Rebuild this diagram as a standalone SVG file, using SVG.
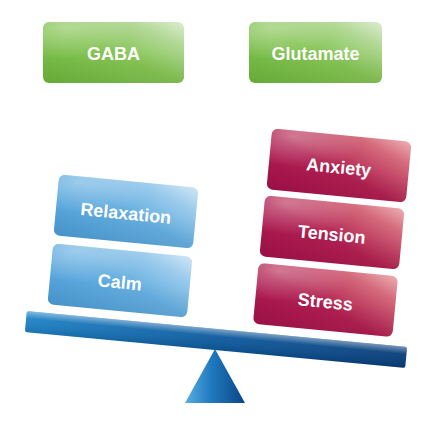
<svg xmlns="http://www.w3.org/2000/svg" width="435" height="427" viewBox="0 0 435 427">
  <defs>
    <linearGradient id="gGreen" x1="0" y1="1" x2="1" y2="0">
      <stop offset="0" stop-color="#6cb43a"/>
      <stop offset="0.5" stop-color="#85c454"/>
      <stop offset="0.8" stop-color="#b2d896"/>
      <stop offset="1" stop-color="#dcedcf"/>
    </linearGradient>
    <linearGradient id="gBlue" x1="0" y1="1" x2="1" y2="0">
      <stop offset="0" stop-color="#4a9cd6"/>
      <stop offset="0.5" stop-color="#64aee0"/>
      <stop offset="0.8" stop-color="#9ccbec"/>
      <stop offset="1" stop-color="#d0e7f6"/>
    </linearGradient>
    <linearGradient id="gRed" x1="0" y1="1" x2="1" y2="0">
      <stop offset="0" stop-color="#a3104a"/>
      <stop offset="0.45" stop-color="#b01f50"/>
      <stop offset="0.8" stop-color="#d46a7c"/>
      <stop offset="1" stop-color="#eeb0b4"/>
    </linearGradient>
    <radialGradient id="gSheen" cx="0.15" cy="0.1" r="0.5">
      <stop offset="0" stop-color="#ffffff" stop-opacity="0.35"/>
      <stop offset="1" stop-color="#ffffff" stop-opacity="0"/>
    </radialGradient>
    <linearGradient id="gShade" x1="0" y1="0" x2="0" y2="1">
      <stop offset="0.5" stop-color="#000000" stop-opacity="0"/>
      <stop offset="1" stop-color="#000000" stop-opacity="0.06"/>
    </linearGradient>
    <linearGradient id="gBeam" x1="0" y1="0" x2="1" y2="0">
      <stop offset="0" stop-color="#1e82c6"/>
      <stop offset="0.5" stop-color="#0d5a9e"/>
      <stop offset="1" stop-color="#073c78"/>
    </linearGradient>
    <linearGradient id="gBeamHi" x1="0" y1="0" x2="0" y2="1">
      <stop offset="0" stop-color="#ffffff" stop-opacity="0.45"/>
      <stop offset="0.35" stop-color="#ffffff" stop-opacity="0.05"/>
      <stop offset="1" stop-color="#000000" stop-opacity="0.1"/>
    </linearGradient>
    <linearGradient id="gTri" x1="0" y1="0" x2="1" y2="0">
      <stop offset="0" stop-color="#5aaee2"/>
      <stop offset="0.45" stop-color="#1f78bd"/>
      <stop offset="1" stop-color="#0a4686"/>
    </linearGradient>
  </defs>
  <style>
    .box { stroke: none; }
    .green { fill: url(#gGreen); }
    .blue { fill: url(#gBlue); }
    .red { fill: url(#gRed); }
    .sheen { fill: url(#gSheen); }
    .shade { fill: url(#gShade); }
    .lbl { font-family: "Liberation Sans", Arial, sans-serif; font-weight: bold; font-size: 18px; fill: #ffffff; text-anchor: middle; }
  </style>
  <rect width="435" height="427" fill="#ffffff"/>

  <g id="GABA">
    <rect class="box green" x="43" y="22" width="141" height="61" rx="6"/>
    <rect class="box sheen" x="43" y="22" width="141" height="61" rx="6"/>
    <rect class="box shade" x="43" y="22" width="141" height="61" rx="6"/>
    <text class="lbl" x="113.5" y="59.5">GABA</text>
  </g>
  <g id="Glutamate">
    <rect class="box green" x="249" y="22" width="133" height="61" rx="6"/>
    <rect class="box sheen" x="249" y="22" width="133" height="61" rx="6"/>
    <rect class="box shade" x="249" y="22" width="133" height="61" rx="6"/>
    <text class="lbl" x="315.5" y="59.5">Glutamate</text>
  </g>

  <g id="fulcrum">
    <polygon points="215,349 185,403 245,403" fill="url(#gTri)"/>
  </g>
  <g id="beam" transform="translate(216,339.5) rotate(5.4)">
    <rect x="-191" y="-10.5" width="382" height="21" rx="2" fill="url(#gBeam)"/>
    <rect x="-191" y="-10.5" width="382" height="21" rx="2" fill="url(#gBeamHi)"/>
  </g>

  <g id="Relaxation" transform="translate(126,211.5) rotate(5.5)">
    <rect class="box blue" x="-70" y="-30.5" width="140" height="61" rx="6"/>
    <rect class="box sheen" x="-70" y="-30.5" width="140" height="61" rx="6"/>
    <rect class="box shade" x="-70" y="-30.5" width="140" height="61" rx="6"/>
    <text class="lbl" x="0" y="8">Relaxation</text>
  </g>
  <g id="Calm" transform="translate(120,280.5) rotate(5.5)">
    <rect class="box blue" x="-70" y="-30.5" width="140" height="61" rx="6"/>
    <rect class="box sheen" x="-70" y="-30.5" width="140" height="61" rx="6"/>
    <rect class="box shade" x="-70" y="-30.5" width="140" height="61" rx="6"/>
    <text class="lbl" x="0" y="8">Calm</text>
  </g>

  <g id="Anxiety" transform="translate(339,165.5) rotate(5.5)">
    <rect class="box red" x="-70" y="-30.5" width="140" height="61" rx="6"/>
    <rect class="box sheen" x="-70" y="-30.5" width="140" height="61" rx="6"/>
    <rect class="box shade" x="-70" y="-30.5" width="140" height="61" rx="6"/>
    <text class="lbl" x="0" y="8">Anxiety</text>
  </g>
  <g id="Tension" transform="translate(332,232.5) rotate(5.5)">
    <rect class="box red" x="-70" y="-30.5" width="140" height="61" rx="6"/>
    <rect class="box sheen" x="-70" y="-30.5" width="140" height="61" rx="6"/>
    <rect class="box shade" x="-70" y="-30.5" width="140" height="61" rx="6"/>
    <text class="lbl" x="0" y="8">Tension</text>
  </g>
  <g id="Stress" transform="translate(325.5,300) rotate(5.5)">
    <rect class="box red" x="-70" y="-30.5" width="140" height="61" rx="6"/>
    <rect class="box sheen" x="-70" y="-30.5" width="140" height="61" rx="6"/>
    <rect class="box shade" x="-70" y="-30.5" width="140" height="61" rx="6"/>
    <text class="lbl" x="0" y="8">Stress</text>
  </g>

  <g id="connectors"/>
</svg>
